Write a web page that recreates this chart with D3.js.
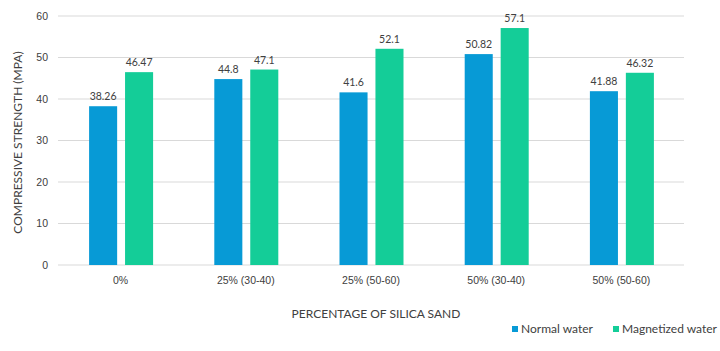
<!DOCTYPE html>
<html>
<head>
<meta charset="utf-8">
<script src="https://cdn.jsdelivr.net/npm/d3@7"></script>
<style>
  body { margin: 0; background: #fff; font-family: Lato, "Open Sans", sans-serif; }
  .axis text { fill: #404040; font-size: 10.5px; }
  .axis path { display: none; }
  .grid line { stroke: #d9d9d9; }
</style>
</head>
<body>
<div id="chart"></div>
<script>
// data
let categories = ["0%", "25% (30-40)", "25% (50-60)", "50% (30-40)", "50% (50-60)"];
let seriesNames = ["Normal water", "Magnetized water"];
let normalWater = [38.26, 44.8, 41.6, 50.82, 41.88];
let magnetizedWater = [46.47, 47.1, 52.1, 57.1, 46.32];
let yTicks = [0, 10, 20, 30, 40, 50, 60];
let colors = ["#079ad6", "#14cd98"];

let margin = {top: 16, right: 36, bottom: 86, left: 58},
    width = 720 - margin.left - margin.right,
    height = 351 - margin.top - margin.bottom;

let svgRoot = d3.select("#chart").append("svg")
    .attr("width", 720)
    .attr("height", 351);

let svg = svgRoot.append("g")
    .attr("transform", "translate(" + margin.left + "," + margin.top + ")");

let x = d3.scaleBand()
    .domain(categories)
    .range([0, width]);

let inner = d3.scaleBand()
    .domain(seriesNames)
    .range([x.bandwidth() / 2 - 31.5, x.bandwidth() / 2 + 32.5])
    .paddingInner(0.22);

let y = d3.scaleLinear()
    .domain([0, 60])
    .range([height, 0]);

// gridlines
svg.append("g")
    .attr("class", "grid")
    .selectAll("line")
    .data(yTicks)
    .enter()
    .append("line")
    .attr("x1", 0)
    .attr("x2", width)
    .attr("y1", d => y(d))
    .attr("y2", d => y(d));

// axes
svg.append("g")
    .attr("class", "axis")
    .call(d3.axisLeft(y).tickValues(yTicks).tickSize(0).tickPadding(10));

svg.append("g")
    .attr("class", "axis")
    .attr("transform", "translate(0," + height + ")")
    .call(d3.axisBottom(x).tickSize(0).tickPadding(12));

// bars
let rows = categories.map((c, i) => ({cat: c, vals: [
    {name: seriesNames[0], v: normalWater[i]},
    {name: seriesNames[1], v: magnetizedWater[i]}
]}));

let groups = svg.selectAll(".group")
    .data(rows)
    .enter()
    .append("g")
    .attr("class", "group")
    .attr("transform", d => "translate(" + x(d.cat) + ",0)");

groups.selectAll("rect")
    .data(d => d.vals)
    .enter()
    .append("rect")
    .attr("x", d => inner(d.name))
    .attr("y", d => y(d.v))
    .attr("width", inner.bandwidth())
    .attr("height", d => height - y(d.v))
    .attr("fill", (d, i) => colors[i]);

groups.selectAll(".val")
    .data(d => d.vals)
    .enter()
    .append("text")
    .attr("class", "val")
    .attr("x", d => inner(d.name) + inner.bandwidth() / 2)
    .attr("y", d => y(d.v) - 6)
    .attr("text-anchor", "middle")
    .attr("font-size", 10.5)
    .attr("fill", "#404040")
    .text(d => d.v);

// axis titles
svgRoot.append("text")
    .attr("transform", "translate(22," + (margin.top + height / 2 + 2) + ") rotate(-90)")
    .attr("text-anchor", "middle")
    .attr("font-size", 12)
    .attr("fill", "#404040")
    .text("COMPRESSIVE STRENGTH (MPA)");

svgRoot.append("text")
    .attr("x", 376)
    .attr("y", 318)
    .attr("text-anchor", "middle")
    .attr("font-size", 12)
    .attr("fill", "#404040")
    .text("PERCENTAGE OF SILICA SAND");

// legend
let legendX = [512, 613];
let legend = svgRoot.selectAll(".legend")
    .data(seriesNames)
    .enter()
    .append("g")
    .attr("class", "legend")
    .attr("transform", (d, i) => "translate(" + legendX[i] + ",333)");

legend.append("rect")
    .attr("x", 0)
    .attr("y", -7)
    .attr("width", 6)
    .attr("height", 6)
    .attr("fill", (d, i) => colors[i]);

legend.append("text")
    .attr("x", 9)
    .attr("y", 0)
    .attr("font-size", 12)
    .attr("fill", "#404040")
    .text(d => d);
</script>
</body>
</html>
